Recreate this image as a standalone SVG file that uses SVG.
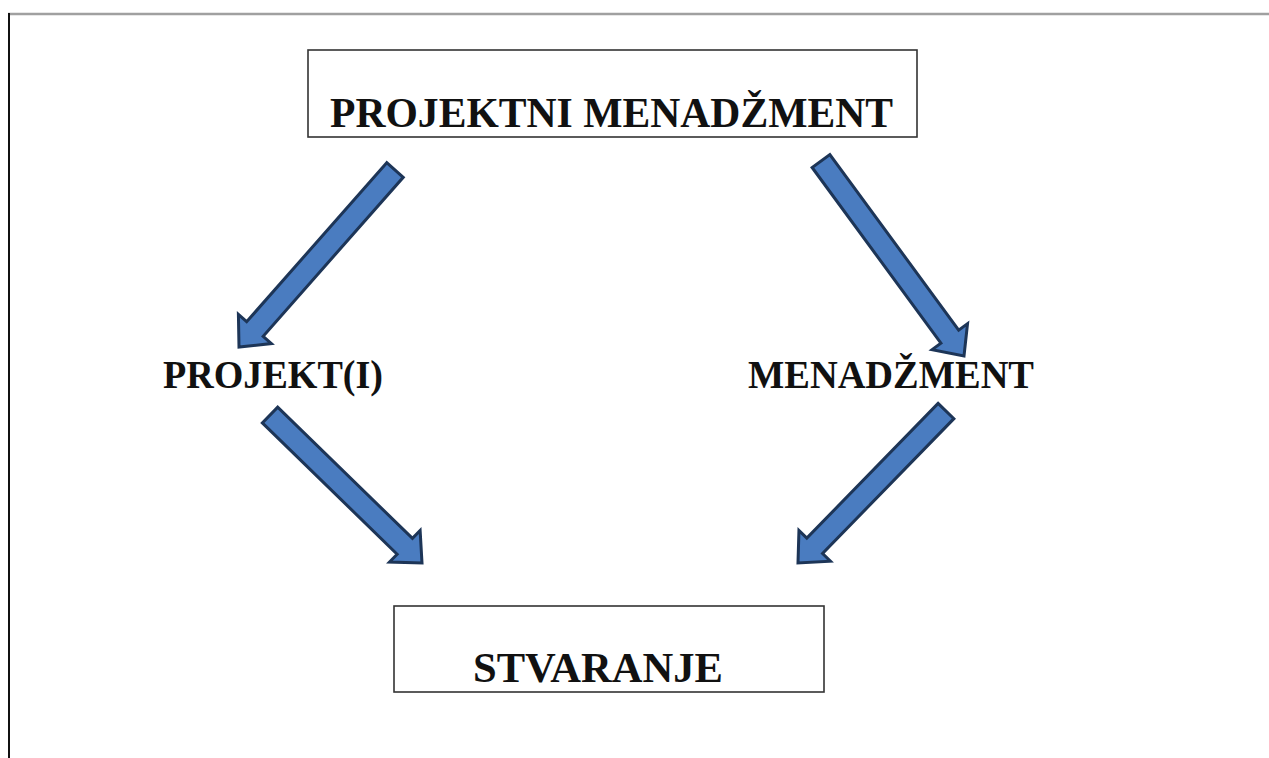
<svg xmlns="http://www.w3.org/2000/svg" width="1269" height="758" viewBox="0 0 1269 758">
<style>
.box{fill:#fff;stroke:#333;stroke-width:1.6}
.lbl{font-family:"Liberation Serif","Times New Roman",serif;font-weight:bold;fill:#111}
.arr{fill:#4a7cc0;stroke:#1d3557;stroke-width:3;stroke-linejoin:miter}
</style>
<rect width="1269" height="758" fill="#fff"/>
<g id="frame">
<line x1="8" y1="14" x2="1269" y2="14" stroke="#a0a0a0" stroke-width="2.5"/>
<line x1="9" y1="13" x2="9" y2="758" stroke="#111" stroke-width="2"/>
</g>
<g id="node-projektni-menadzment">
<rect class="box" x="308" y="50" width="609" height="87"/>
<text class="lbl" x="330" y="127" font-size="43" textLength="563" lengthAdjust="spacingAndGlyphs">PROJEKTNI MENADŽMENT</text>
</g>
<g id="node-projekti">
<text class="lbl" x="163" y="388" font-size="41" textLength="220" lengthAdjust="spacingAndGlyphs">PROJEKT(I)</text>
</g>
<g id="node-menadzment">
<text class="lbl" x="748" y="388" font-size="41" textLength="286" lengthAdjust="spacingAndGlyphs">MENADŽMENT</text>
</g>
<g id="node-stvaranje">
<rect class="box" x="394" y="606" width="430" height="86"/>
<text class="lbl" x="473" y="682" font-size="43" textLength="250" lengthAdjust="spacingAndGlyphs">STVARANJE</text>
</g>
<g id="connectors">
<polygon class="arr" points="386.75,162.73 246.65,321.73 238.4,314.46 239,347 271.4,343.54 263.15,336.27 403.25,177.27"/>
<polygon class="arr" points="812.13,167.5 940.93,343.15 932.07,349.65 964,356 967.53,323.65 958.67,330.15 829.87,154.5"/>
<polygon class="arr" points="262.33,422.88 397.13,554.18 389.47,562.05 422,563 420.13,530.55 412.47,538.42 277.67,407.12"/>
<polygon class="arr" points="938.12,403.33 806.82,538.13 798.95,530.47 798,563 830.45,561.13 822.58,553.47 953.88,418.67"/>
</g>
</svg>
